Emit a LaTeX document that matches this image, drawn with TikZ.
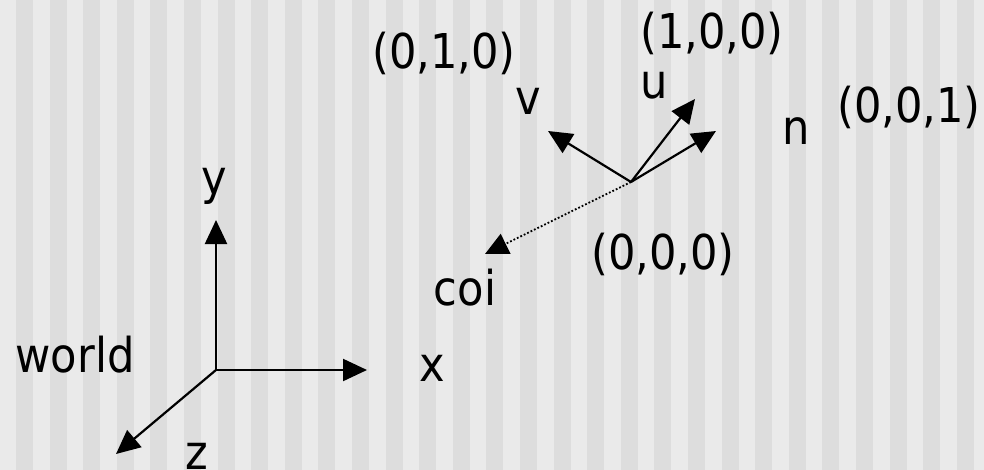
\documentclass[tikz,border=0pt]{standalone}
\usepackage{fontspec}
\setmainfont{DejaVu Sans Condensed}
\usetikzlibrary{arrows.meta}
\definecolor{stripelight}{RGB}{234,234,234}
\definecolor{stripedark}{RGB}{221,221,221}
\tikzset{axis/.style={line width=2.2pt, -{Triangle[length=24pt,width=22pt]}},
  look/.style={line width=1.8pt, dotted, -{Triangle[length=23pt,width=22pt]}},
  lbl/.style={anchor=base, inner sep=0pt, font=\fontsize{48}{56}\selectfont}}

\begin{document}
\begin{tikzpicture}[x=1pt, y=-1pt]
    \useasboundingbox (0,0) rectangle (984,470);
    \fill[stripelight] (0,0) rectangle (984,470);
    \foreach \k in {0,...,28}
        \fill[stripedark] ({16+33.6*\k},0) rectangle +(17,470);
    % world frame
    \coordinate (worldO) at (216,370);
    \coordinate (xtip) at (367,370);
    \coordinate (ytip) at (216,220);
    \coordinate (ztip) at (116,454);
    \draw[axis] (worldO) -- (xtip);
    \draw[axis] (worldO) -- (ytip);
    \draw[axis] (worldO) -- (ztip);
    \node[lbl] (world) at (75,372) {world};
    \node[lbl] (xlbl) at (432,381) {x};
    \node[lbl] (ylbl) at (214,195) {y};
    \node[lbl] (zlbl) at (197,469) {z};
    % camera frame
    \coordinate (camO) at (631,182);
    \coordinate (vtip) at (548,131);
    \coordinate (utip) at (695,99);
    \coordinate (ntip) at (716,131);
    \coordinate (coitip) at (485,254);
    \draw[axis] (camO) -- (vtip);
    \draw[axis] (camO) -- (utip);
    \draw[axis] (camO) -- (ntip);
    \draw[look] (camO) -- (coitip);
    \node[lbl] (vlbl) at (528,115) {v};
    \node[lbl] (ulbl) at (654,99) {u};
    \node[lbl] (nlbl) at (796,145) {n};
    \node[lbl] (coi) at (465,305) {coi};
    \node[lbl] (vval) at (444,69) {(0,1,0)};
    \node[lbl] (uval) at (712,49) {(1,0,0)};
    \node[lbl] (nval) at (909,123) {(0,0,1)};
    \node[lbl] (oval) at (663,269) {(0,0,0)};
\end{tikzpicture}
\end{document}
